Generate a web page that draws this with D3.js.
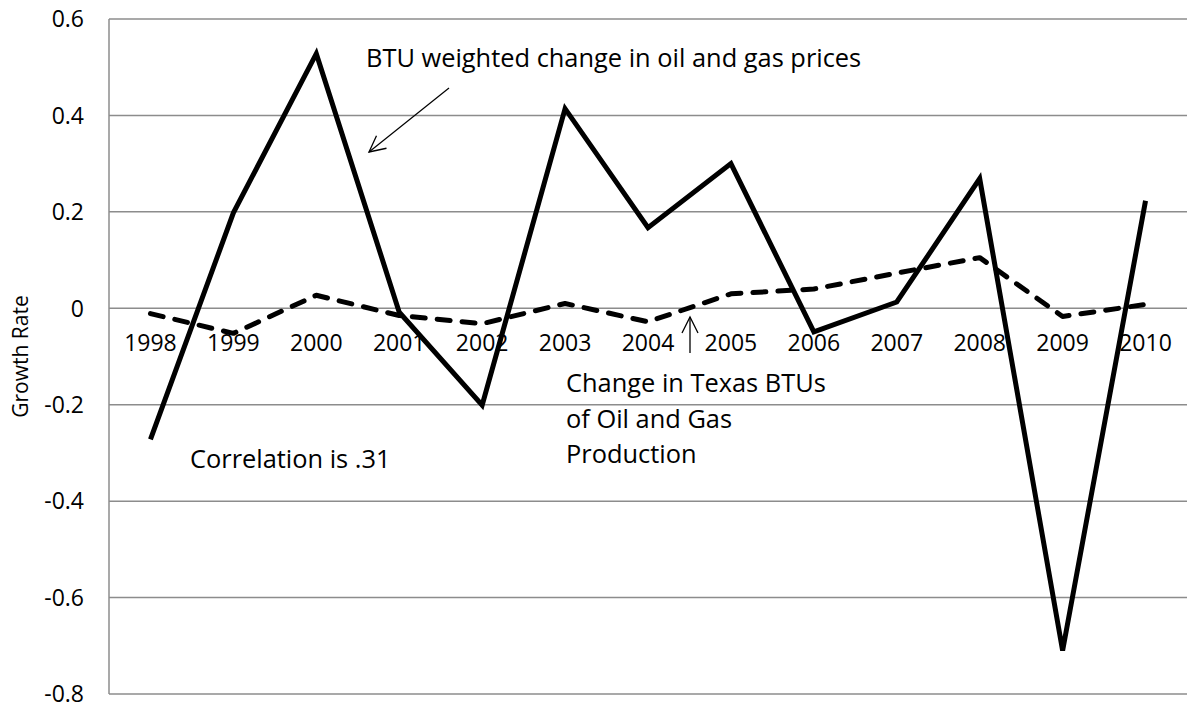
<!DOCTYPE html>
<html>
<head>
<meta charset="utf-8">
<title>Growth Rate</title>
<style>
  body { margin: 0; background: #fff; }
  text { font-family: "Open Sans", sans-serif; fill: #000; }
  .grid line { stroke: #8c8c8c; stroke-width: 1.5px; }
  .price { fill: none; stroke: #000; stroke-width: 5px; stroke-linejoin: miter; }
  .btu { fill: none; stroke: #000; stroke-width: 5px; stroke-dasharray: 13,12; stroke-linecap: round; stroke-linejoin: round; }
  .note { fill: none; stroke: #000; stroke-width: 1.3px; }
</style>
</head>
<body>
<svg width="1188" height="709"></svg>
<script src="https://d3js.org/d3.v7.min.js"></script>
<script>

var years = ["1998", "1999", "2000", "2001", "2002", "2003", "2004", "2005", "2006", "2007", "2008", "2009", "2010"];
// BTU weighted change in oil and gas prices
var priceChange = [-0.272, 0.198, 0.528, -0.008, -0.201, 0.414, 0.167, 0.300, -0.049, 0.013, 0.269, -0.710, 0.223];
// change in Texas BTUs of oil and gas production
var btuChange = [-0.011, -0.052, 0.027, -0.015, -0.032, 0.010, -0.028, 0.030, 0.040, 0.073, 0.105, -0.017, 0.008];
var yTicks = [0.6, 0.4, 0.2, 0, -0.2, -0.4, -0.6, -0.8];

var svg = d3.select("svg"),
    plot = {left: 109, right: 1187, top: 19, bottom: 694};

var x = d3.scalePoint().domain(years).range([plot.left, plot.right]).padding(0.5),
    y = d3.scaleLinear().domain([-0.8, 0.6]).range([plot.bottom, plot.top]);

// gridlines
svg.append("g").attr("class", "grid")
  .selectAll("line")
  .data(yTicks)
  .enter().append("line")
    .attr("x1", plot.left).attr("x2", plot.right)
    .attr("y1", function(d) { return y(d); })
    .attr("y2", function(d) { return y(d); });

svg.append("line")
    .attr("x1", plot.left).attr("x2", plot.left)
    .attr("y1", plot.top).attr("y2", plot.bottom)
    .style("stroke", "#8c8c8c").style("stroke-width", "1.5px");

// y tick labels
svg.append("g")
  .selectAll("text")
  .data(yTicks)
  .enter().append("text")
    .attr("x", 84)
    .attr("y", function(d) { return y(d); })
    .attr("dy", "0.36em")
    .style("text-anchor", "end")
    .style("font-size", "23px")
    .text(function(d) { return d; });

svg.append("text")
    .attr("transform", "translate(28," + ((plot.top + plot.bottom) / 2) + ") rotate(-90)")
    .style("text-anchor", "middle")
    .style("font-size", "21px")
    .text("Growth Rate");

// year labels sit just under the zero line
svg.append("g")
  .selectAll("text")
  .data(years)
  .enter().append("text")
    .attr("x", function(d) { return x(d); })
    .attr("y", y(0) + 43)
    .style("text-anchor", "middle")
    .style("font-size", "23px")
    .text(function(d) { return d; });

var line = d3.line()
    .x(function(d, i) { return x(years[i]); })
    .y(function(d) { return y(d); });

svg.append("path")
    .datum(priceChange)
    .attr("class", "price")
    .attr("d", line);

svg.append("path")
    .datum(btuChange)
    .attr("class", "btu")
    .attr("d", line);

// annotations
svg.append("defs").append("marker")
    .attr("id", "head")
    .attr("markerUnits", "userSpaceOnUse")
    .attr("markerWidth", 20).attr("markerHeight", 20)
    .attr("refX", 17).attr("refY", 9)
    .attr("orient", "auto")
  .append("path")
    .attr("d", "M1,1 L17,9 L1,17")
    .attr("class", "note");

svg.append("line").attr("class", "note")
    .attr("x1", 449).attr("y1", 88)
    .attr("x2", 369).attr("y2", 152)
    .attr("marker-end", "url(#head)");

svg.append("line").attr("class", "note")
    .attr("x1", 690).attr("y1", 353)
    .attr("x2", 690).attr("y2", 317)
    .attr("marker-end", "url(#head)");

svg.append("text")
    .attr("x", 366).attr("y", 67)
    .style("font-size", "25.4px")
    .text("BTU weighted change in oil and gas prices");

svg.append("text")
    .attr("x", 190).attr("y", 468)
    .style("font-size", "25.4px")
    .text("Correlation is .31");

svg.append("text")
    .attr("x", 566).attr("y", 392)
    .style("font-size", "25.4px")
  .selectAll("tspan")
  .data(["Change in Texas BTUs", "of Oil and Gas", "Production"])
  .enter().append("tspan")
    .attr("x", 566)
    .attr("dy", function(d, i) { return i ? 35.5 : 0; })
    .text(function(d) { return d; });

</script>
</body>
</html>
